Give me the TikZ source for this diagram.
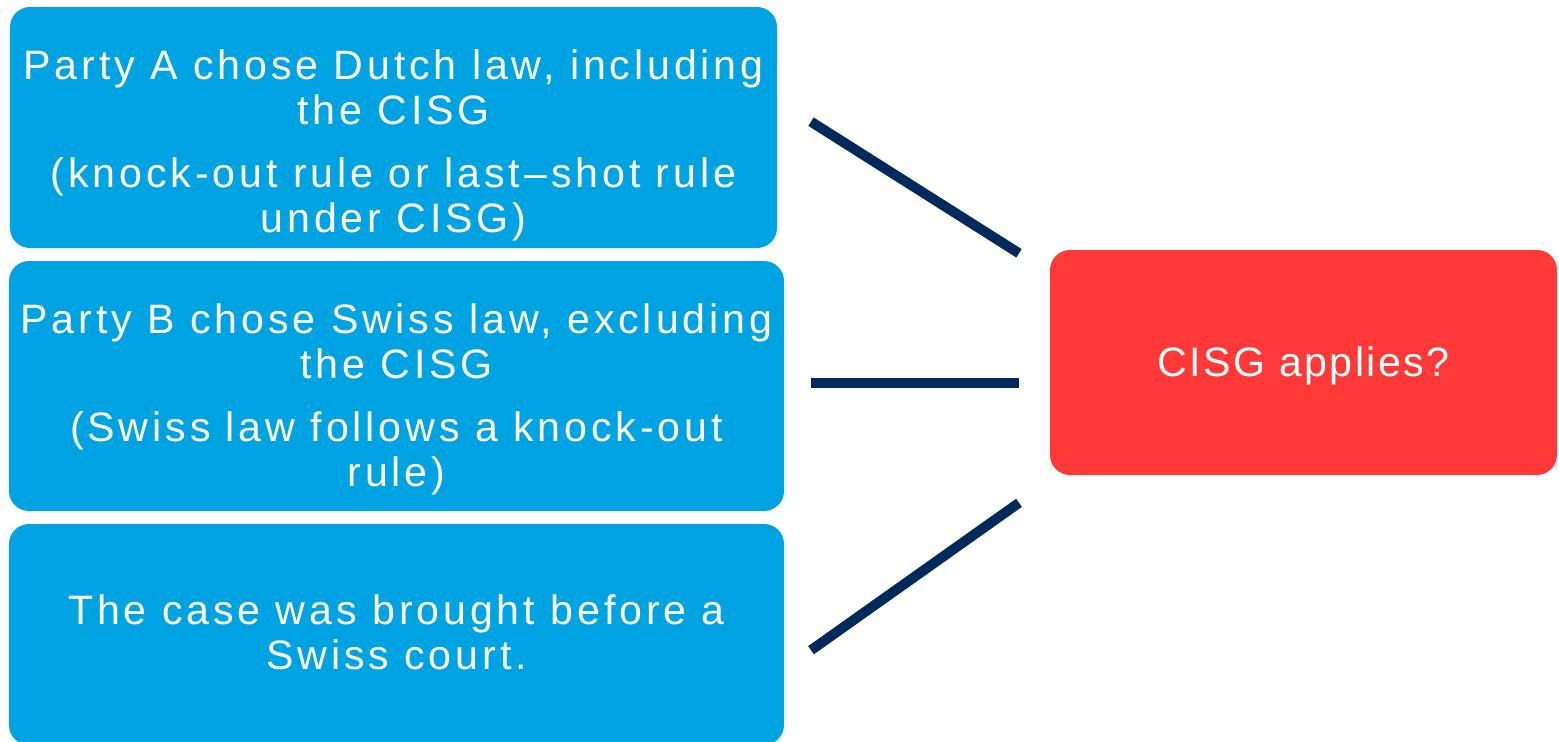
\documentclass[tikz,border=0pt]{standalone}
\usepackage{fontspec}
\setmainfont{Liberation Sans}[LetterSpace=9.5]
\usetikzlibrary{positioning}
\definecolor{factcolor}{HTML}{00A3E2}
\definecolor{askcolor}{HTML}{FF3838}
\definecolor{linkcolor}{HTML}{002A5C}

\begin{document}
\begin{tikzpicture}[
    fact/.style={rectangle, fill=factcolor, rounded corners=0.2cm, minimum width=7.75cm, inner sep=0pt, outer sep=0pt, align=center, text=white, text depth=0pt, font=\fontsize{11.7}{12.8}\selectfont},
    ask/.style={rectangle, fill=askcolor, rounded corners=0.2cm, minimum width=5.07cm, minimum height=2.25cm, inner sep=0pt, outer sep=0pt, align=center, text=white, text depth=0pt, text height=0.28cm, font=\fontsize{11.7}{12.8}\selectfont\addfontfeatures{LetterSpace=6}},
    link/.style={draw=linkcolor, line width=2.85pt}
]
    \useasboundingbox (0,0) rectangle (15.59,7.41);

    % the three facts of the case
    \node[fact, minimum width=7.67cm, minimum height=2.41cm, text height=2.09cm] (a) at (3.935,6.135) {Party A chose Dutch law, including\\the CISG\\[0.18cm](knock-out rule or last–shot rule\\under CISG)};
    \node[fact, minimum height=2.5cm, text height=2.01cm, below=0.13cm of a, xshift=0.03cm] (b) {Party B chose Swiss law, excluding\\the CISG\\[0.18cm](Swiss law follows a knock-out\\rule)};
    \node[fact, minimum height=2.21cm, text height=0.69cm, below=0.13cm of b] (c) {The case was brought before a\\Swiss court.};

    % the question
    \node[ask] (goal) at (13.035,3.785) {CISG applies?};

    \coordinate (a-out) at (8.11,6.193);
    \coordinate (a-in) at (10.19,4.877);
    \coordinate (b-out) at (8.11,3.58);
    \coordinate (b-in) at (10.19,3.58);
    \coordinate (c-out) at (8.11,0.908);
    \coordinate (c-in) at (10.19,2.382);

    \draw[link] (a-out) -- (a-in);
    \draw[link] (b-out) -- (b-in);
    \draw[link] (c-out) -- (c-in);
\end{tikzpicture}
\end{document}
